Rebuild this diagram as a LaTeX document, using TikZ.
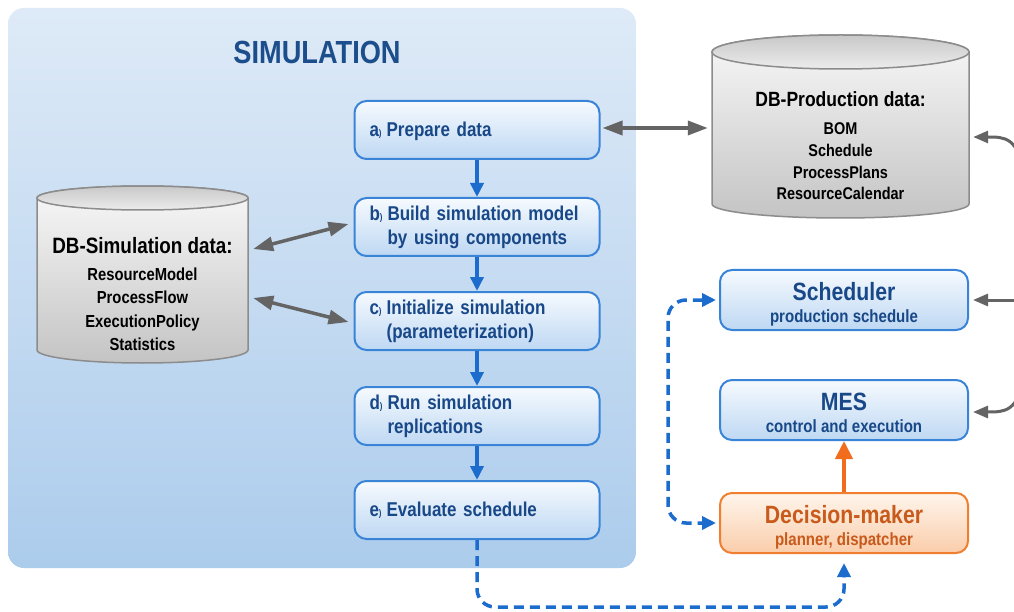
\documentclass[tikz,border=0pt]{standalone}
\usepackage{fontspec}
\setmainfont{Liberation Sans}[FakeStretch=0.85]
\usetikzlibrary{arrows.meta}
\definecolor{panelTop}{RGB}{222,234,247}
\definecolor{panelBot}{RGB}{172,204,236}
\definecolor{boxBorder}{RGB}{58,132,216}
\definecolor{boxTop}{RGB}{246,250,254}
\definecolor{boxBot}{RGB}{190,216,243}
\definecolor{txtBlue}{RGB}{24,72,136}
\definecolor{titleBlue}{RGB}{28,78,140}
\definecolor{arrBlue}{RGB}{28,108,206}
\definecolor{grayArr}{RGB}{100,100,100}
\definecolor{cylBorder}{RGB}{140,140,140}
\definecolor{cylTop}{RGB}{248,248,248}
\definecolor{cylBot}{RGB}{196,196,196}
\definecolor{lidTop}{RGB}{200,200,200}
\definecolor{lidBot}{RGB}{236,236,236}
\definecolor{dmBorder}{RGB}{240,128,48}
\definecolor{dmTop}{RGB}{255,245,236}
\definecolor{dmBot}{RGB}{250,205,170}
\definecolor{dmTxt}{RGB}{200,90,28}
\definecolor{orangeArr}{RGB}{242,108,30}
\newcommand\stpone[2]{\begin{tabular}{@{}l@{\hspace{5pt}}l@{}}\rule{0pt}{21pt}#1{\fontsize{9.5}{9.5}\selectfont)} & #2\end{tabular}}
\newcommand\stptwo[3]{\begin{tabular}{@{}l@{\hspace{5pt}}l@{}}\rule{0pt}{18pt}#1{\fontsize{9.5}{9.5}\selectfont)} & #2\\ & #3\end{tabular}}
\newcommand\sidetxt[2]{\begin{tabular}{@{}c@{}}\rule{0pt}{29pt}{\fontsize{25}{27}\selectfont #1}\\ #2\end{tabular}}
\begin{document}
\begin{tikzpicture}[x=1pt,y=-1pt,
  panel/.style={rounded corners=16pt, top color=panelTop, bottom color=panelBot, minimum width=628pt, minimum height=560pt, inner sep=0pt},
  stepbox/.style={draw=boxBorder, line width=2pt, rounded corners=12pt, top color=boxTop, bottom color=boxBot, minimum width=245pt, minimum height=58pt, text width=215pt, inner xsep=15pt, inner ysep=0pt, align=left, text=txtBlue, font=\fontsize{20}{24}\selectfont\bfseries},
  sidebox/.style={draw=boxBorder, line width=2pt, rounded corners=12pt, top color=boxTop, bottom color=boxBot, minimum width=248pt, minimum height=60pt, inner sep=0pt, align=center, text=txtBlue, font=\fontsize{17.7}{22}\selectfont\bfseries},
  dmbox/.style={sidebox, draw=dmBorder, top color=dmTop, bottom color=dmBot, text=dmTxt},
  cylbody/.style={draw=cylBorder, line width=1.5pt, top color=cylTop, bottom color=cylBot},
  cyllid/.style={draw=cylBorder, line width=1.5pt, top color=lidTop, bottom color=lidBot},
  ghost/.style={inner sep=0pt, draw=none},
  grayarrow/.style={draw=grayArr, line width=3.5pt, {Triangle[length=20pt,width=14pt]}-{Triangle[length=20pt,width=14pt]}},
  grayin/.style={draw=grayArr, line width=3pt, -{Triangle[length=15pt,width=12pt]}},
  bluearrow/.style={draw=arrBlue, line width=3.5pt, -{Triangle[length=14pt,width=13pt]}},
  orangearrow/.style={draw=orangeArr, line width=4pt, -{Triangle[length=18pt,width=17pt]}},
  dashblue/.style={draw=arrBlue, line width=3.5pt, dash pattern=on 10pt off 6pt, rounded corners=18pt}
]
\useasboundingbox (0,0) rectangle (1014,612);
\clip (0,0) rectangle (1014,612);
\fill[white] (0,0) rectangle (1014,612);

% simulation panel
\node[panel] (sim) at (322,288) {};
\node[text=titleBlue, font=\fontsize{32}{32}\selectfont\bfseries, inner sep=0pt] (title) at (317,52) {SIMULATION};

% steps
\node[stepbox] (a) at (477,130) {\stpone{a}{Prepare data}};
\node[stepbox] (b) at (477,227) {\stptwo{b}{Build simulation model}{by using components}};
\node[stepbox] (c) at (477,321) {\stptwo{c}{Initialize simulation}{(parameterization)}};
\node[stepbox] (d) at (477,416) {\stptwo{d}{Run simulation}{replications}};
\node[stepbox] (e) at (477,510) {\stpone{e}{Evaluate schedule}};

\draw[bluearrow] (a.south) -- (b.north);
\draw[bluearrow] (b.south) -- (c.north);
\draw[bluearrow] (c.south) -- (d.north);
\draw[bluearrow] (d.south) -- (e.north);

% DB-Simulation cylinder
\path[cylbody] (37,198) -- (37,350) arc[start angle=180, end angle=0, x radius=105.5, y radius=13] -- (248,198) arc[start angle=0, end angle=-180, x radius=105.5, y radius=12] -- cycle;
\path[cyllid] (142.5,198) ellipse [x radius=105.5, y radius=12];
\node[ghost, minimum width=211pt, minimum height=152pt] (dbsimB) at (142.5,274) {};
\node[anchor=north, inner sep=0pt, align=center, font=\fontsize{17.4}{23.5}\selectfont\bfseries] (dbsim) at (142.5,237)
  {{\fontsize{22.2}{24}\selectfont DB-Simulation data:}\\[3.5pt]ResourceModel\\ProcessFlow\\ExecutionPolicy\\Statistics};

% DB-Production cylinder
\path[cylbody] (712,52) -- (712,204) arc[start angle=180, end angle=0, x radius=128.5, y radius=14] -- (969,52) arc[start angle=0, end angle=-180, x radius=128.5, y radius=17] -- cycle;
\path[cyllid] (840.5,52) ellipse [x radius=128.5, y radius=17];
\node[ghost, minimum width=257pt, minimum height=152pt] (dbprodB) at (840.5,128) {};
\node[anchor=north, inner sep=0pt, align=center, font=\fontsize{17}{21.7}\selectfont\bfseries] (dbprod) at (840.5,91)
  {{\fontsize{20.6}{22}\selectfont DB-Production data:}\\[7pt]BOM\\Schedule\\ProcessPlans\\ResourceCalendar};

% right side boxes
\node[sidebox] (sched) at (844,300) {\sidetxt{Scheduler}{production schedule}};
\node[sidebox] (mes) at (844,410) {\sidetxt{MES}{control and execution}};
\node[dmbox] (dm) at (844,523) {\sidetxt{Decision-maker}{planner, dispatcher}};

% gray data arrows
\draw[grayarrow] ([xshift=5pt,yshift=25pt]dbsimB.east) -- ([xshift=-5pt,yshift=3pt]b.west);
\draw[grayarrow] ([xshift=5pt,yshift=-24pt]dbsimB.east) -- ([xshift=-5pt,yshift=-1pt]c.west);
\draw[grayarrow] ([xshift=2pt,yshift=2pt]a.east) -- ([xshift=-4pt]dbprodB.west);

% incoming arrows from the right edge
\coordinate (in1) at (1024,175);
\coordinate (in2) at (1024,300);
\coordinate (in3) at (1024,375);
\draw[grayin] (in1) .. controls (1018,137) and (1005,137) .. ([xshift=4pt,yshift=-9pt]dbprodB.east);
\draw[grayin] (in2) -- ([xshift=4pt]sched.east);
\draw[grayin] (in3) .. controls (1018,412) and (1005,412) .. ([xshift=4pt,yshift=-2pt]mes.east);

% orange arrow
\draw[orangearrow] (dm.north) -- (mes.south);

% dashed feedback paths
\coordinate (low) at (0,607);
\coordinate (loopx) at (668,0);
\draw[dashblue, -{Triangle[length=14pt,width=13pt]}] (e.south) -- (e.south |- low) -- (dm.south |- low) -- ([yshift=-9pt]dm.south);
\draw[dashblue, {Triangle[length=14pt,width=13pt]}-{Triangle[length=14pt,width=13pt]}] ([xshift=-3pt]sched.west) -- (sched.west -| loopx) -- (dm.west -| loopx) -- ([xshift=-3pt]dm.west);
\end{tikzpicture}
\end{document}
